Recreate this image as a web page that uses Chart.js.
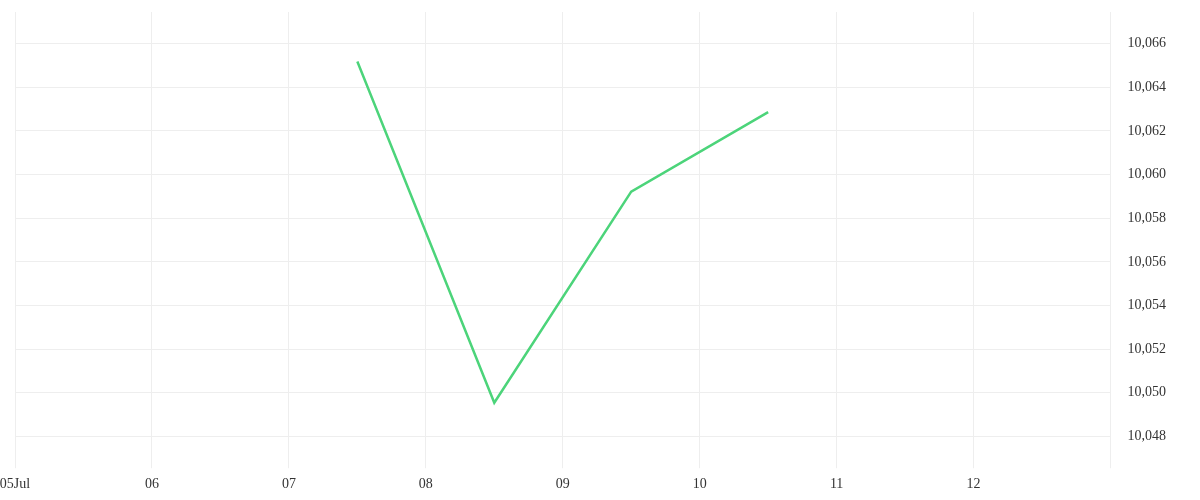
<!DOCTYPE html>
<html>
<head>
<meta charset="utf-8">
<script src="https://cdn.jsdelivr.net/npm/chart.js@4"></script>
<style>
  html, body { margin: 0; padding: 0; background: #fff; }
  #wrap { width: 1200px; height: 500px; }
</style>
</head>
<body>
<div id="wrap"><canvas id="chart"></canvas></div>
<script>
// day of July (noon = .5)
const days = [7.5, 8.5, 9.5, 10.5];
const values = [10065.18, 10049.54, 10059.22, 10062.86];
const dayMin = 5;
const dayMax = 13;
const yMin = 10047;
const yMax = 10067.45;
const yTicks = [10048, 10050, 10052, 10054, 10056, 10058, 10060, 10062, 10064, 10066];

const ctx = document.getElementById('chart').getContext('2d');
Chart.defaults.font.family = '"Liberation Serif", serif';
Chart.defaults.font.size = 14;
Chart.defaults.color = '#333';

new Chart(ctx, {
    type: 'line',
    data: {
        datasets: [{
            data: days.map((d, i) => ({ x: d, y: values[i] })),
            borderColor: '#4cd47a',
            borderWidth: 2.5,
            pointRadius: 0,
            tension: 0,
            fill: false
        }]
    },
    options: {
        responsive: true,
        maintainAspectRatio: false,
        animation: false,
        layout: { padding: { top: 0, right: 17, left: 0, bottom: 0 } },
        plugins: { legend: { display: false }, tooltip: { enabled: false } },
        scales: {
            x: {
                type: 'linear',
                min: dayMin,
                max: dayMax,
                grid: { color: '#eeeeee', tickLength: 10 },
                border: { display: false },
                afterFit: function(axis) {
                    axis.paddingLeft = 15;
                },
                ticks: {
                    stepSize: 1,
                    maxRotation: 0,
                    padding: 7.5,
                    callback: function(value) {
                        if (value === dayMax) return '';
                        const d = String(value).padStart(2, '0');
                        return value === dayMin ? d + 'Jul' : d;
                    }
                }
            },
            y: {
                position: 'right',
                min: yMin,
                max: yMax,
                grid: { color: '#eeeeee', drawTicks: false },
                border: { color: '#eeeeee' },
                afterBuildTicks: function(axis) {
                    axis.ticks = yTicks.map(v => ({ value: v }));
                },
                afterFit: function(axis) {
                    axis.paddingTop = 12;
                    axis.paddingBottom = 0;
                },
                ticks: {
                    padding: 17,
                    callback: function(value) {
                        return value.toLocaleString('en-US');
                    }
                }
            }
        }
    }
});
</script>
</body>
</html>
